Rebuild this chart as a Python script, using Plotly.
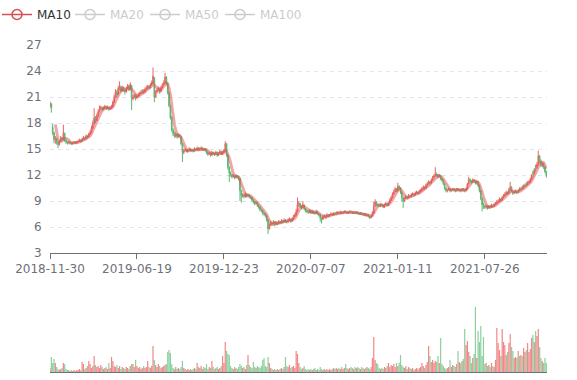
import numpy as np
import pandas as pd
import plotly.graph_objects as go

# Each row = one 2-session bar (so a 5-row mean equals a 10-session MA).
tick_labels = ["2018-11-30", "2019-06-19", "2019-12-23", "2020-07-07", "2021-01-11", "2021-07-26"]
tick_rows = [0, 65, 130, 195, 260, 325]   # row index at which each labelled date falls

opens = [
    19.9, 20.2, 17.5, 16.9, 16.0, 16.2, 15.8, 15.5, 15.9, 16.3,
    16.1, 16.8, 16.0, 15.8, 15.7, 15.8, 15.7, 15.6, 15.7, 15.8,
    15.7, 15.8, 15.9, 16.0, 15.9, 16.1, 16.3, 16.2, 16.5, 16.4,
    16.7, 16.9, 17.4, 17.9, 18.6, 18.3, 18.8, 19.3, 19.6, 19.8,
    19.6, 19.7, 19.9, 19.7, 19.8, 19.6, 19.7, 19.9, 20.4, 21.0,
    21.6, 21.3, 22.0, 22.2, 21.7, 22.1, 21.8, 21.6, 22.0, 22.3,
    21.9, 22.3, 20.8, 21.0, 21.2, 20.9, 21.1, 21.3, 21.4, 21.5,
    21.7, 21.6, 21.9, 22.0, 22.2, 22.1, 22.4, 22.6, 23.2, 21.0,
    21.6, 21.8, 22.0, 21.7, 22.1, 22.4, 22.6, 23.3, 22.6, 21.5,
    20.0, 18.6, 17.2, 16.8, 16.5, 16.7, 16.4, 16.6, 16.4, 15.6,
    14.6, 14.8, 14.9, 14.7, 14.9, 15.0, 14.8, 14.9, 14.8, 15.0,
    14.9, 15.1, 14.9, 15.0, 15.1, 14.9, 15.0, 14.9, 14.6, 14.4,
    14.5, 14.3, 14.6, 14.5, 14.4, 14.6, 14.3, 14.5, 14.7, 14.4,
    14.6, 14.8, 15.6, 14.3, 12.9, 12.2, 12.0, 11.8, 11.9, 11.7,
    11.9, 11.8, 11.6, 10.2, 9.6, 9.7, 9.5, 9.8, 9.6, 9.7,
    9.5, 9.4, 9.1, 8.9, 8.7, 8.8, 8.5, 8.3, 8.0, 7.9,
    7.6, 7.5, 7.3, 6.8, 5.8, 6.2, 6.5, 6.4, 6.6, 6.3,
    6.5, 6.4, 6.6, 6.5, 6.7, 6.6, 6.8, 6.7, 6.6, 6.8,
    6.9, 6.7, 6.9, 7.2, 7.4, 7.8, 8.6, 8.7, 8.4, 8.2,
    8.5, 8.1, 7.9, 7.8, 7.7, 7.9, 7.6, 7.8, 7.7, 7.6,
    7.8, 7.5, 7.4, 7.0, 6.9, 7.2, 7.3, 7.2, 7.4, 7.3,
    7.4, 7.5, 7.4, 7.6, 7.5, 7.6, 7.7, 7.6, 7.7, 7.6,
    7.7, 7.8, 7.7, 7.6, 7.7, 7.8, 7.7, 7.6, 7.7, 7.6,
    7.7, 7.6, 7.5, 7.6, 7.5, 7.4, 7.5, 7.3, 7.4, 7.2,
    7.1, 7.3, 7.6, 8.4, 8.9, 8.6, 8.5, 8.4, 8.6, 8.5,
    8.3, 8.6, 8.7, 8.5, 8.8, 9.1, 9.4, 9.8, 10.1, 10.4,
    10.2, 10.7, 10.5, 10.0, 9.4, 9.0, 9.3, 9.5, 9.4, 9.6,
    9.5, 9.7, 9.8, 9.7, 9.9, 10.0, 9.9, 10.1, 10.2, 10.4,
    10.6, 10.5, 10.8, 11.0, 11.2, 11.1, 11.4, 11.7, 11.9, 12.1,
    12.0, 11.8, 11.9, 11.6, 11.4, 11.0, 10.5, 10.2, 10.3, 10.4,
    10.2, 10.3, 10.4, 10.3, 10.2, 10.4, 10.2, 10.3, 10.2, 10.4,
    10.3, 10.2, 10.4, 11.0, 11.5, 11.3, 11.2, 11.4, 11.3, 11.1,
    11.2, 10.8, 10.2, 9.3, 8.6, 8.4, 8.3, 8.4, 8.2, 8.4,
    8.3, 8.5, 8.4, 8.6, 8.7, 8.9, 9.0, 9.2, 9.1, 9.4,
    9.6, 9.8, 10.0, 9.9, 10.3, 10.6, 10.1, 9.9, 10.0, 10.1,
    10.0, 10.4, 10.3, 10.6, 10.5, 10.7, 11.0, 10.9, 11.1, 11.2,
    11.5, 12.3, 12.2, 13.0, 12.9, 13.2, 14.2, 13.6, 13.1, 13.3,
    12.9, 12.4,
]
closes = [
    20.3, 19.7, 16.9, 16.1, 16.2, 15.8, 15.5, 15.9, 16.3, 16.1,
    16.9, 16.0, 15.8, 15.7, 15.8, 15.7, 15.6, 15.7, 15.8, 15.7,
    15.8, 15.9, 16.0, 15.9, 16.1, 16.3, 16.2, 16.5, 16.4, 16.7,
    16.9, 17.4, 17.9, 18.6, 18.3, 18.8, 19.3, 19.6, 19.8, 19.6,
    19.7, 19.9, 19.7, 19.8, 19.6, 19.7, 19.9, 20.4, 21.0, 21.6,
    21.3, 22.0, 22.2, 21.7, 22.1, 21.8, 21.6, 22.0, 22.3, 21.9,
    22.5, 21.0, 21.0, 21.2, 20.9, 21.1, 21.3, 21.4, 21.5, 21.7,
    21.6, 21.9, 22.0, 22.2, 22.1, 22.4, 22.6, 23.4, 21.0, 21.6,
    21.8, 22.0, 21.7, 22.1, 22.4, 22.6, 23.3, 22.6, 21.5, 20.0,
    18.6, 17.2, 16.8, 16.5, 16.7, 16.4, 16.6, 16.5, 15.6, 14.6,
    14.8, 14.9, 14.7, 14.9, 15.0, 14.8, 14.9, 14.8, 15.0, 14.9,
    15.1, 14.9, 15.0, 15.1, 14.9, 15.0, 14.9, 14.6, 14.4, 14.5,
    14.3, 14.6, 14.5, 14.4, 14.6, 14.3, 14.5, 14.7, 14.4, 14.6,
    14.8, 15.6, 14.3, 12.9, 12.2, 12.0, 11.8, 11.9, 11.7, 11.9,
    11.8, 11.6, 10.2, 9.6, 9.7, 9.5, 9.8, 9.6, 9.7, 9.5,
    9.4, 9.1, 8.9, 8.7, 8.8, 8.5, 8.3, 8.0, 7.9, 7.6,
    7.5, 7.3, 6.8, 5.8, 6.2, 6.5, 6.4, 6.6, 6.3, 6.5,
    6.4, 6.6, 6.5, 6.7, 6.6, 6.8, 6.7, 6.6, 6.8, 6.9,
    6.7, 6.9, 7.2, 7.4, 7.8, 8.6, 8.7, 8.4, 8.2, 8.5,
    8.1, 7.9, 7.8, 7.7, 7.9, 7.6, 7.8, 7.7, 7.6, 7.8,
    7.5, 7.4, 7.0, 6.9, 7.2, 7.3, 7.2, 7.4, 7.3, 7.4,
    7.5, 7.4, 7.6, 7.5, 7.6, 7.7, 7.6, 7.7, 7.6, 7.7,
    7.8, 7.7, 7.6, 7.7, 7.8, 7.7, 7.6, 7.7, 7.6, 7.7,
    7.6, 7.5, 7.6, 7.5, 7.4, 7.5, 7.3, 7.4, 7.2, 7.1,
    7.3, 7.6, 8.4, 8.9, 8.6, 8.5, 8.4, 8.6, 8.5, 8.3,
    8.6, 8.7, 8.5, 8.8, 9.1, 9.4, 9.8, 10.1, 10.4, 10.2,
    10.7, 10.5, 10.0, 9.4, 9.0, 9.3, 9.5, 9.4, 9.6, 9.5,
    9.7, 9.8, 9.7, 9.9, 10.0, 9.9, 10.1, 10.2, 10.4, 10.6,
    10.5, 10.8, 11.0, 11.2, 11.1, 11.4, 11.7, 11.9, 12.1, 12.0,
    11.8, 11.9, 11.6, 11.4, 11.0, 10.5, 10.2, 10.3, 10.4, 10.2,
    10.3, 10.4, 10.3, 10.2, 10.4, 10.3, 10.3, 10.2, 10.4, 10.3,
    10.2, 10.4, 11.0, 11.5, 11.3, 11.2, 11.4, 11.3, 11.1, 11.2,
    10.8, 10.2, 9.3, 8.6, 8.4, 8.3, 8.4, 8.2, 8.4, 8.3,
    8.5, 8.4, 8.6, 8.7, 8.9, 9.0, 9.2, 9.1, 9.4, 9.6,
    9.8, 10.0, 9.9, 10.3, 10.6, 10.1, 9.9, 10.0, 10.1, 10.0,
    10.2, 10.3, 10.4, 10.5, 10.7, 10.8, 10.9, 11.1, 11.2, 11.5,
    11.9, 12.2, 12.6, 12.9, 13.2, 14.2, 13.6, 13.1, 13.3, 12.9,
    12.4, 11.9,
]
highs = [
    20.5, 20.3, 17.9, 17.0, 16.5, 16.3, 15.9, 16.0, 16.5, 16.4,
    17.8, 16.9, 16.1, 15.9, 15.9, 15.9, 15.8, 15.8, 15.9, 15.9,
    15.9, 16.0, 16.2, 16.1, 16.3, 16.5, 16.4, 16.7, 16.6, 16.9,
    17.2, 17.7, 18.3, 19.7, 18.8, 19.1, 19.6, 20.0, 20.0, 19.9,
    19.9, 20.1, 20.0, 20.0, 19.9, 19.9, 20.1, 20.6, 21.3, 21.9,
    21.8, 22.3, 22.8, 22.3, 22.3, 22.2, 21.9, 22.2, 22.5, 22.4,
    22.7, 22.4, 21.3, 21.4, 21.3, 21.3, 21.5, 21.6, 21.8, 21.9,
    21.9, 22.1, 22.3, 22.4, 22.4, 22.6, 22.9, 24.4, 23.3, 21.8,
    22.0, 22.2, 22.1, 22.3, 22.6, 22.9, 23.8, 23.4, 22.7, 21.6,
    20.1, 18.8, 17.4, 17.0, 16.9, 16.8, 16.8, 16.7, 16.5, 15.7,
    15.0, 15.1, 15.0, 15.0, 15.2, 15.1, 15.0, 15.0, 15.2, 15.1,
    15.3, 15.2, 15.2, 15.3, 15.2, 15.1, 15.1, 15.0, 14.7, 14.7,
    14.6, 14.8, 14.7, 14.6, 14.8, 14.7, 14.6, 14.9, 14.8, 14.8,
    15.0, 15.9, 15.7, 14.4, 13.0, 12.4, 12.1, 12.1, 12.0, 12.1,
    12.0, 11.9, 11.7, 10.3, 9.9, 9.8, 10.0, 9.9, 9.9, 9.8,
    9.6, 9.5, 9.2, 9.0, 9.0, 8.9, 8.6, 8.4, 8.1, 8.0,
    7.7, 7.6, 7.4, 6.9, 6.4, 6.7, 6.6, 6.8, 6.7, 6.7,
    6.6, 6.8, 6.7, 6.9, 6.8, 7.0, 6.9, 6.8, 7.0, 7.1,
    7.0, 7.1, 7.4, 7.6, 8.1, 9.4, 9.0, 8.8, 8.5, 9.0,
    8.6, 8.2, 8.0, 7.9, 8.1, 8.0, 8.0, 7.9, 7.8, 8.0,
    7.9, 7.6, 7.5, 7.1, 7.4, 7.5, 7.4, 7.6, 7.5, 7.5,
    7.7, 7.6, 7.7, 7.7, 7.8, 7.8, 7.8, 7.9, 7.8, 7.8,
    7.9, 7.9, 7.8, 7.8, 7.9, 7.9, 7.8, 7.8, 7.8, 7.8,
    7.8, 7.7, 7.7, 7.7, 7.6, 7.6, 7.6, 7.5, 7.5, 7.3,
    7.4, 7.8, 8.9, 9.2, 9.0, 8.7, 8.6, 8.7, 8.7, 8.6,
    8.7, 8.9, 8.8, 8.9, 9.3, 9.6, 10.0, 10.3, 10.6, 10.5,
    11.1, 10.8, 10.6, 10.1, 9.5, 9.4, 9.7, 9.6, 9.8, 9.7,
    9.9, 10.0, 9.9, 10.1, 10.2, 10.1, 10.3, 10.4, 10.6, 10.8,
    10.7, 11.0, 11.2, 11.4, 11.3, 11.6, 11.9, 12.1, 12.9, 12.3,
    12.1, 12.1, 12.0, 11.7, 11.5, 11.1, 10.6, 10.4, 10.6, 10.5,
    10.4, 10.5, 10.5, 10.4, 10.5, 10.5, 10.4, 10.4, 10.5, 10.5,
    10.4, 10.5, 11.1, 11.8, 11.6, 11.4, 11.6, 11.5, 11.4, 11.4,
    11.3, 10.9, 10.3, 9.4, 8.8, 8.5, 8.6, 8.5, 8.5, 8.5,
    8.7, 8.6, 8.8, 8.9, 9.1, 9.2, 9.4, 9.3, 9.6, 9.8,
    10.0, 10.2, 10.1, 10.5, 11.2, 10.7, 10.2, 10.2, 10.3, 10.2,
    10.4, 10.6, 10.6, 10.8, 10.9, 11.0, 11.2, 11.3, 11.4, 11.7,
    12.1, 12.5, 12.8, 13.2, 13.5, 14.8, 14.3, 13.8, 13.5, 13.4,
    13.0, 12.5,
]
lows = [
    19.8, 19.2, 16.6, 15.7, 15.6, 15.5, 15.1, 15.4, 15.8, 15.9,
    16.0, 15.8, 15.6, 15.5, 15.6, 15.5, 15.5, 15.5, 15.6, 15.6,
    15.6, 15.7, 15.8, 15.7, 15.8, 16.0, 16.0, 16.1, 16.2, 16.3,
    16.6, 16.8, 17.3, 17.8, 18.0, 18.2, 18.7, 19.2, 19.5, 19.4,
    19.5, 19.6, 19.5, 19.6, 19.4, 19.5, 19.6, 19.8, 20.3, 20.9,
    21.0, 21.2, 21.8, 21.5, 21.6, 21.6, 21.3, 21.5, 21.9, 21.7,
    21.8, 19.5, 20.6, 20.8, 20.6, 20.8, 21.0, 21.1, 21.3, 21.4,
    21.4, 21.5, 21.8, 21.9, 21.9, 22.0, 22.3, 22.5, 20.4, 20.9,
    21.4, 21.7, 21.5, 21.6, 22.0, 22.3, 22.5, 22.4, 21.3, 19.8,
    18.4, 17.0, 16.5, 16.3, 16.3, 16.2, 16.3, 16.3, 15.4, 13.5,
    14.4, 14.7, 14.6, 14.6, 14.8, 14.7, 14.7, 14.6, 14.7, 14.8,
    14.8, 14.8, 14.8, 14.9, 14.8, 14.8, 14.7, 14.4, 14.2, 14.3,
    14.1, 14.2, 14.3, 14.2, 14.3, 14.1, 14.2, 14.4, 14.3, 14.3,
    14.5, 14.7, 14.1, 12.6, 11.2, 11.8, 11.6, 11.7, 11.5, 11.6,
    11.6, 11.4, 9.0, 8.8, 9.4, 9.3, 9.4, 9.4, 9.5, 9.3,
    9.2, 8.9, 8.7, 8.5, 8.6, 8.3, 8.1, 7.8, 7.7, 7.4,
    7.3, 7.1, 6.6, 5.2, 5.7, 6.1, 6.2, 6.3, 6.1, 6.2,
    6.2, 6.3, 6.3, 6.4, 6.4, 6.5, 6.5, 6.4, 6.5, 6.7,
    6.5, 6.6, 6.8, 7.1, 7.3, 7.7, 8.3, 8.2, 8.0, 8.1,
    7.9, 7.7, 7.6, 7.5, 7.6, 7.5, 7.5, 7.5, 7.4, 7.5,
    7.4, 7.2, 6.6, 6.4, 6.8, 7.1, 7.0, 7.1, 7.1, 7.2,
    7.3, 7.3, 7.3, 7.4, 7.4, 7.5, 7.5, 7.5, 7.5, 7.5,
    7.6, 7.6, 7.5, 7.5, 7.6, 7.6, 7.5, 7.5, 7.5, 7.5,
    7.5, 7.4, 7.4, 7.4, 7.3, 7.3, 7.2, 7.2, 7.1, 6.9,
    7.0, 7.2, 7.5, 8.3, 8.4, 8.4, 8.3, 8.3, 8.4, 8.2,
    8.2, 8.5, 8.4, 8.4, 8.7, 9.0, 9.3, 9.7, 10.0, 10.0,
    10.1, 10.3, 9.8, 8.9, 8.2, 8.9, 9.2, 9.2, 9.3, 9.4,
    9.4, 9.6, 9.5, 9.6, 9.8, 9.7, 9.8, 10.0, 10.1, 10.3,
    10.3, 10.4, 10.7, 10.9, 10.9, 11.0, 11.3, 11.6, 11.8, 11.8,
    11.6, 11.7, 11.4, 11.2, 10.8, 10.3, 10.0, 10.0, 10.2, 10.0,
    10.1, 10.2, 10.1, 10.0, 10.1, 10.1, 10.1, 10.0, 10.1, 10.1,
    10.0, 10.1, 10.3, 10.9, 11.1, 11.0, 11.1, 11.1, 10.9, 10.9,
    10.6, 10.0, 9.1, 7.8, 8.1, 8.1, 8.1, 8.0, 8.1, 8.1,
    8.2, 8.2, 8.3, 8.5, 8.6, 8.8, 8.9, 8.9, 9.0, 9.3,
    9.5, 9.7, 9.7, 9.8, 10.2, 10.0, 9.7, 9.8, 9.9, 9.8,
    9.9, 10.1, 10.2, 10.3, 10.4, 10.6, 10.7, 10.8, 11.0, 11.1,
    11.4, 11.7, 12.0, 12.4, 12.7, 13.1, 13.4, 12.9, 12.9, 12.7,
    12.2, 11.7,
]
volumes = [
    4, 15, 9, 13, 9, 5, 3, 2, 3, 4,
    9, 8, 3, 2, 2, 1, 2, 1, 2, 1,
    2, 2, 3, 2, 10, 8, 3, 4, 6, 11,
    8, 4, 6, 16, 7, 5, 6, 4, 7, 5,
    3, 4, 5, 3, 9, 4, 15, 11, 6, 5,
    7, 4, 6, 3, 5, 4, 3, 5, 4, 3,
    6, 8, 8, 5, 12, 6, 4, 5, 3, 4,
    6, 4, 5, 11, 5, 4, 6, 26, 12, 7,
    5, 8, 6, 4, 5, 6, 7, 8, 20, 22,
    19, 8, 4, 3, 5, 3, 4, 3, 5, 11,
    4, 3, 2, 3, 2, 3, 2, 3, 4, 3,
    9, 5, 4, 6, 3, 5, 4, 8, 3, 5,
    4, 11, 5, 3, 4, 5, 3, 4, 6, 16,
    9, 30, 21, 18, 17, 6, 4, 3, 5, 4,
    3, 5, 8, 6, 4, 5, 3, 7, 17, 7,
    5, 4, 10, 5, 4, 6, 5, 4, 6, 12,
    14, 6, 5, 15, 9, 4, 3, 2, 3, 2,
    3, 2, 3, 4, 3, 5, 15, 6, 5, 7,
    4, 5, 6, 4, 21, 18, 9, 5, 3, 4,
    6, 3, 2, 3, 2, 3, 2, 3, 4, 2,
    3, 2, 5, 3, 2, 3, 2, 3, 2, 3,
    2, 3, 4, 3, 4, 3, 4, 3, 5, 3,
    4, 8, 4, 3, 4, 5, 4, 3, 5, 4,
    5, 4, 3, 5, 4, 3, 4, 5, 4, 3,
    5, 14, 35, 12, 9, 8, 4, 3, 4, 3,
    5, 4, 6, 9, 5, 7, 6, 8, 5, 9,
    6, 9, 17, 7, 5, 4, 6, 3, 5, 4,
    3, 4, 2, 3, 4, 3, 4, 5, 9, 6,
    4, 7, 10, 26, 16, 10, 12, 9, 11, 10,
    16, 9, 34, 8, 6, 4, 3, 4, 5, 12,
    5, 7, 6, 5, 8, 21, 10, 9, 11, 13,
    43, 27, 31, 20, 16, 9, 14, 18, 65, 14,
    41, 30, 46, 16, 35, 8, 9, 6, 7, 5,
    9, 6, 5, 12, 44, 29, 22, 16, 43, 30,
    27, 17, 20, 29, 38, 25, 21, 14, 15, 14,
    21, 16, 17, 16, 24, 20, 22, 29, 20, 23,
    34, 37, 30, 41, 36, 43, 25, 14, 11, 9,
    14, 9,
]

# ---------------------------------------------------------------------------
W, H = 577, 380
idx = np.arange(len(closes))
close_s = pd.Series(closes)
ma = {name: close_s.rolling(win).mean() for name, win in
      [("MA10", 5), ("MA20", 10), ("MA50", 25), ("MA100", 50)]}

UP, DOWN = "#eb5454", "#47b262"
vol_colors = ["rgba(235,84,84,0.7)" if c >= o else "rgba(71,178,98,0.62)"
              for o, c in zip(opens, closes)]

FONT = "DejaVu Sans"
fig = go.Figure()

fig.add_trace(go.Candlestick(
    x=idx, open=opens, high=highs, low=lows, close=closes,
    increasing=dict(line=dict(color=UP, width=1), fillcolor=UP),
    decreasing=dict(line=dict(color=DOWN, width=1), fillcolor=DOWN),
    whiskerwidth=0, opacity=0.9, showlegend=False, hoverinfo="skip",
    xaxis="x", yaxis="y"))

fig.add_trace(go.Scatter(
    x=idx, y=ma["MA10"], mode="lines", legendgroup="ma10", showlegend=False,
    line=dict(color="rgba(222,80,80,0.5)", width=3), hoverinfo="skip",
    xaxis="x", yaxis="y"))
fig.add_trace(go.Scatter(
    x=[None], y=[None], name="MA10", mode="lines+markers", legendgroup="ma10",
    line=dict(color="#d94e4e", width=1.5),
    marker=dict(symbol="circle-open", size=10, color="#d94e4e", line=dict(width=1.5)),
    legend="legend", xaxis="x", yaxis="y"))
for name, leg in [("MA20", "legend2"), ("MA50", "legend2"), ("MA100", "legend3")]:
    fig.add_trace(go.Scatter(
        x=idx, y=ma[name], name=name, mode="lines+markers", visible="legendonly",
        line=dict(color="#9a9a9a", width=1.5),
        marker=dict(symbol="circle-open", size=10, maxdisplayed=1, color="#9a9a9a",
                    line=dict(width=1.5)),
        legend=leg, xaxis="x", yaxis="y"))

fig.add_trace(go.Bar(
    x=idx, y=volumes, marker=dict(color=vol_colors, line=dict(width=0)),
    showlegend=False, hoverinfo="skip", xaxis="x2", yaxis="y2"))

x0, x1 = 50 / W, 547 / W
xrange = [0, len(closes) - 0.5]
legend_common = dict(y=1.0, xanchor="left", yanchor="top", orientation="h",
                     bgcolor="rgba(0,0,0,0)", itemsizing="trace")
fig.update_layout(
    width=W, height=H, autosize=False,
    margin=dict(l=0, r=0, t=0, b=0, autoexpand=False),
    paper_bgcolor="white", plot_bgcolor="white",
    font=dict(family=FONT, size=12, color="#6e7079"),
    bargap=0.1,
    xaxis=dict(domain=[x0, x1], range=xrange, tickmode="array",
               tickvals=tick_rows, ticktext=tick_labels,
               showline=True, linecolor="#6e7079", linewidth=1,
               ticks="outside", ticklen=5, tickcolor="#6e7079",
               showgrid=False, zeroline=False, anchor="y", automargin=False,
               rangeslider=dict(visible=False),
               tickfont=dict(family=FONT, size=12, color="#6e7079")),
    yaxis=dict(domain=[1 - 253 / H, 1 - 45 / H], range=[3, 27], dtick=3, tick0=3,
               showline=False, zeroline=False, gridcolor="#e0e6f1",
               griddash="4px,4px", ticks="outside", ticklen=5, automargin=False,
               tickcolor="rgba(0,0,0,0)", anchor="x",
               tickfont=dict(family=FONT, size=12, color="#6e7079")),
    xaxis2=dict(domain=[x0, x1], range=xrange, matches="x", anchor="y2",
                showticklabels=False, showline=True, linecolor="#6e7079",
                ticks="", showgrid=False, zeroline=False, automargin=False),
    yaxis2=dict(domain=[1 - 372 / H, 1 - 300 / H], range=[0, 72],
                visible=False, anchor="x2"),
    legend=dict(x=-3 / W, font=dict(family=FONT, size=12, color="#333333"),
                **legend_common),
    legend2=dict(x=70 / W, font=dict(family=FONT, size=12, color="#999999"),
                 entrywidth=30, entrywidthmode="pixels", **legend_common),
    legend3=dict(x=220 / W, font=dict(family=FONT, size=12, color="#999999"),
                 **legend_common),
)

fig.write_html(
    "out.html",
    config={"displayModeBar": False},
    post_script="document.body.style.margin='0';document.body.style.overflow='hidden';",
)
